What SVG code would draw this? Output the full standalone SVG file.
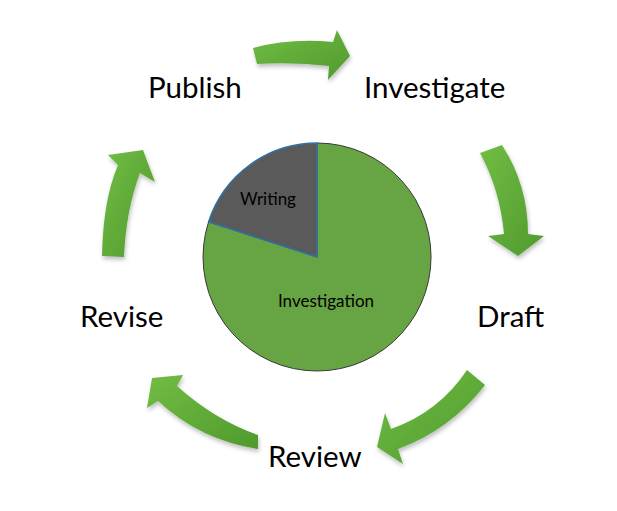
<svg xmlns="http://www.w3.org/2000/svg" width="617" height="511" viewBox="0 0 617 511">
<defs>
<linearGradient id="g" x1="0" y1="0" x2="1" y2="1">
<stop offset="0" stop-color="#72bd45"/>
<stop offset="1" stop-color="#4f9a2c"/>
</linearGradient>
<filter id="sh" x="-20%" y="-20%" width="150%" height="150%">
<feDropShadow dx="1" dy="3" stdDeviation="2" flood-color="#000" flood-opacity="0.25"/>
</filter>
<style>
.lbl{font-family:Lato,"Liberation Sans",sans-serif;font-size:29.5px;fill:#000}
.pie{font-family:Lato,"Liberation Sans",sans-serif;font-size:17px;fill:#000;text-anchor:middle}
.arr{fill:url(#g);filter:url(#sh)}
</style>
</defs>
<rect width="617" height="511" fill="#fff"/>
<g id="connectors">
<path class="arr" d="M253,48 Q290,38 333,42 L337,30 L350,56 L328,80 L329,66 Q295,62 257,64 Z"/>
<path class="arr" d="M480,153 L502,145 Q528,185 528,234 L544,236 L518,256 L488,236 L504,234 Q500,190 480,153 Z"/>
<path class="arr" d="M467,370 L485,385 Q450,430 398,449 L403,464 L377,447 L385,413 L391,429 Q439,412 467,370 Z"/>
<path class="arr" d="M258,435 Q215,420 177,386 L183,375 L152,378 L147,408 L158,401 Q200,440 258,449 Z"/>
<path class="arr" d="M102,256 Q103,200 118,165 L108,155 L143,150 L155,182 L140,173 Q126,210 124,257 Z"/>
</g>
<g id="pie">
<path d="M317,257 L208.6,221.8 A114,114 0 1,0 317,143 Z" fill="#67a443" stroke="#3a3a3a" stroke-width="1"/>
<path d="M317,257 L317,143 A114,114 0 0,0 208.6,221.8 Z" fill="#5a5a5a" stroke="#2f72a8" stroke-width="1.5"/>
<text class="pie" x="268" y="205">Writing</text>
<text class="pie" x="326" y="307">Investigation</text>
</g>
<g id="publish"><text class="lbl" x="148" y="98">Publish</text></g>
<g id="investigate"><text class="lbl" x="364" y="98">Investigate</text></g>
<g id="draft"><text class="lbl" x="477" y="327">Draft</text></g>
<g id="revise"><text class="lbl" x="80" y="327">Revise</text></g>
<g id="review"><text class="lbl" x="268" y="467">Review</text></g>
</svg>
